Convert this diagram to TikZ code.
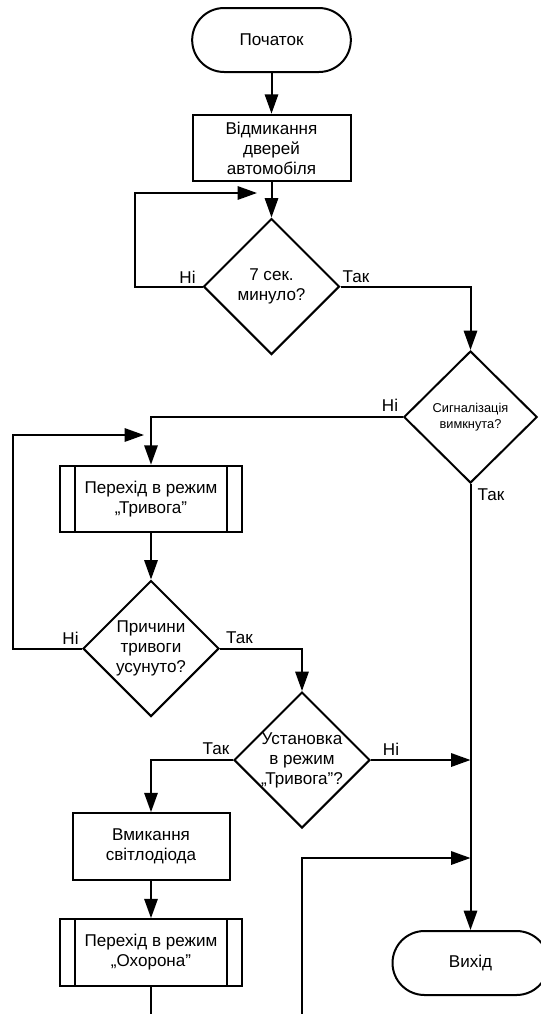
\documentclass[tikz,border=0pt]{standalone}
\usepackage{fontspec}
\setmainfont{Liberation Sans}
\usetikzlibrary{arrows.meta,shapes.geometric}

\begin{document}
\begin{tikzpicture}[x=0.75pt,y=-0.75pt,>={Triangle[length=14.5pt,width=10pt]},line width=1.5pt,
  every node/.style={font=\fontsize{12.8pt}{15pt}\selectfont},
  terminal/.style={draw,rectangle,rounded corners=24pt,minimum width=119pt,minimum height=48pt,align=center},
  block/.style={draw,rectangle,minimum width=118.5pt,minimum height=50pt,align=center,inner sep=0pt},
  subproc/.style={block,minimum width=136.5pt,
    path picture={\draw ([xshift=11.25pt]path picture bounding box.north west) -- ([xshift=11.25pt]path picture bounding box.south west)
      ([xshift=-11.25pt]path picture bounding box.north east) -- ([xshift=-11.25pt]path picture bounding box.south east);}},
  decision/.style={draw,diamond,minimum width=102pt,minimum height=102pt,align=center,inner sep=-6pt},
  lbl/.style={inner sep=0pt}]
  \useasboundingbox (0,0) rectangle (541,1014);

  \node[terminal] (start) at (271.5,40) {Початок};
  \node[block] (unlock) at (271.5,148) {Відмикання\\дверей\\автомобіля};
  \node[decision] (wait) at (271.5,286.5) {7 сек.\\минуло?};
  \node[decision,minimum width=100pt,minimum height=99pt,font=\fontsize{9.6pt}{11.8pt}\selectfont] (armed) at (470.5,417) {Сигналізація\\вимкнута?};
  \node[subproc] (alarm) at (151,499) {Перехід в режим\\„Тривога”};
  \node[decision] (cleared) at (151,648.5) {Причини\\тривоги\\усунуто?};
  \node[decision] (reset) at (302,760) {Установка\\в режим\\„Тривога”?};
  \node[block,minimum width=117.75pt] (led) at (151,846.5) {Вмикання\\світлодіода};
  \node[subproc] (guard) at (151,952.5) {Перехід в режим\\„Охорона”};
  \node[terminal,minimum width=117pt] (finish) at (470.5,963) {Вихід};

  % free ends of the connectors
  \coordinate (waitin) at (257,193);
  \coordinate (alarmin) at (144,435);
  \coordinate (resetout) at (470.5,760);
  \coordinate (backout) at (470.5,858);
  \coordinate (guardout) at (151,1020);
  \coordinate (backin) at (302,1020);

  \draw[->] (start) -- (unlock);
  \draw[->] (unlock) -- (wait);
  \draw[->] (wait.west) -- ++(-68,0) |- (waitin);
  \draw[->] (wait.east) -| (armed.north);
  \draw[->] (armed.west) -| (alarm.north);
  \draw[->] (armed.south) -- (finish.north);
  \draw[->] (alarm) -- (cleared);
  \draw[->] (cleared.west) -- ++(-69,0) |- (alarmin);
  \draw[->] (cleared.east) -| (reset.north);
  \draw[->] (reset.west) -| (led.north);
  \draw[->] (reset.east) -- (resetout);
  \draw[->] (led) -- (guard);
  \draw (guard) -- (guardout);
  \draw[->] (backin) |- (backout);

  \node[lbl] (waitno) at (187.5,277) {Ні};
  \node[lbl] (waityes) at (356,277) {Так};
  \node[lbl] (armedno) at (390,405) {Ні};
  \node[lbl] (armedyes) at (491,495) {Так};
  \node[lbl] (clearedno) at (70.5,638) {Ні};
  \node[lbl] (clearedyes) at (239.5,638) {Так};
  \node[lbl] (resetyes) at (216,749) {Так};
  \node[lbl] (resetno) at (391,749) {Ні};
\end{tikzpicture}
\end{document}
